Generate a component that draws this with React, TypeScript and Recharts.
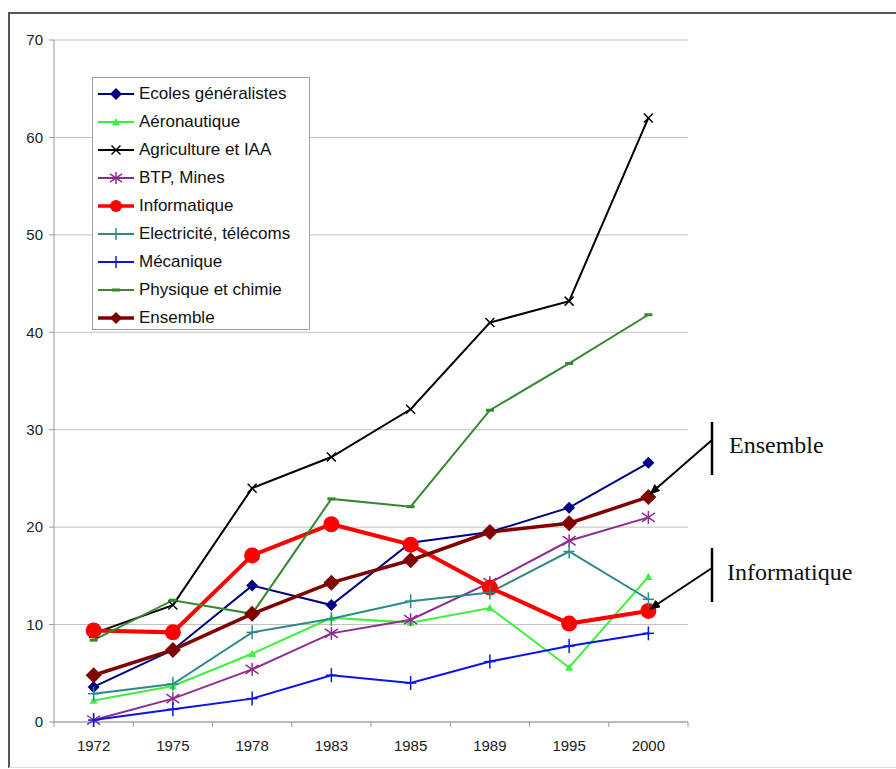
import React from 'react';
import { LineChart, Line, XAxis, YAxis, CartesianGrid, Legend } from 'recharts';

// Years on the category axis
const years = ['1972', '1975', '1978', '1983', '1985', '1989', '1995', '2000'];

// Values, one array per school type
const ecolesGeneralistes = [3.6, 7.4, 14.0, 12.0, 18.4, 19.5, 22.0, 26.6];
const aeronautique = [2.2, 3.7, 7.0, 10.7, 10.2, 11.7, 5.6, 14.9];
const agriculture = [9.1, 12.0, 24.0, 27.2, 32.1, 41.0, 43.2, 62.0];
const btpMines = [0.2, 2.4, 5.4, 9.1, 10.5, 14.3, 18.6, 21.0];
const informatique = [9.4, 9.2, 17.1, 20.3, 18.2, 13.8, 10.1, 11.4];
const electricite = [2.9, 3.9, 9.2, 10.6, 12.4, 13.3, 17.5, 12.6];
const mecanique = [0.2, 1.3, 2.4, 4.8, 4.0, 6.2, 7.8, 9.1];
const physique = [8.4, 12.5, 11.1, 22.9, 22.1, 32.0, 36.8, 41.8];
const ensemble = [4.8, 7.4, 11.1, 14.3, 16.6, 19.5, 20.4, 23.1];

const yTicks = [0, 10, 20, 30, 40, 50, 60, 70];

type Shape = 'diamond' | 'triangle' | 'cross' | 'star' | 'circle' | 'plus' | 'dash';

interface Series {
  key: string;
  name: string;
  values: number[];
  color: string;
  width: number;
  shape: Shape;
  size: number;
}

const SERIES: Series[] = [
  { key: 'ecoles', name: 'Ecoles généralistes', values: ecolesGeneralistes, color: '#000080', width: 2, shape: 'diamond', size: 6 },
  { key: 'aero', name: 'Aéronautique', values: aeronautique, color: '#3ef03e', width: 2, shape: 'triangle', size: 4 },
  { key: 'agri', name: 'Agriculture et IAA', values: agriculture, color: '#000000', width: 2, shape: 'cross', size: 4.5 },
  { key: 'btp', name: 'BTP, Mines', values: btpMines, color: '#8e2d8e', width: 2, shape: 'star', size: 6.5 },
  { key: 'info', name: 'Informatique', values: informatique, color: '#ff0000', width: 4, shape: 'circle', size: 8 },
  { key: 'elec', name: 'Electricité, télécoms', values: electricite, color: '#2e8a8a', width: 2, shape: 'plus', size: 7 },
  { key: 'meca', name: 'Mécanique', values: mecanique, color: '#0a14e6', width: 2, shape: 'plus', size: 7 },
  { key: 'phys', name: 'Physique et chimie', values: physique, color: '#35892f', width: 2, shape: 'dash', size: 4 },
  { key: 'ens', name: 'Ensemble', values: ensemble, color: '#800000', width: 3.5, shape: 'diamond', size: 8 },
];

const chartData = years.map((year, i) => {
  const row: Record<string, string | number> = { year };
  SERIES.forEach((s) => {
    row[s.key] = s.values[i];
  });
  return row;
});

const FONT = '"Liberation Sans", Arial, sans-serif';
const SERIF = '"Liberation Serif", "Times New Roman", serif';
const HALF_BAND = 634 / years.length / 2;

function Marker({ cx, cy, shape, size, color }: { cx: number; cy: number; shape: Shape; size: number; color: string }) {
  const s = size;
  switch (shape) {
    case 'diamond':
      return <polygon points={`${cx},${cy - s} ${cx + s},${cy} ${cx},${cy + s} ${cx - s},${cy}`} fill={color} />;
    case 'triangle':
      return <polygon points={`${cx},${cy - s} ${cx + s},${cy + s * 0.8} ${cx - s},${cy + s * 0.8}`} fill={color} />;
    case 'circle':
      return <circle cx={cx} cy={cy} r={s} fill={color} />;
    case 'cross':
      return (
        <g stroke={color} strokeWidth={1.5}>
          <line x1={cx - s} y1={cy - s} x2={cx + s} y2={cy + s} />
          <line x1={cx - s} y1={cy + s} x2={cx + s} y2={cy - s} />
        </g>
      );
    case 'star':
      return (
        <g stroke={color} strokeWidth={1.5}>
          <line x1={cx - s} y1={cy - s * 0.7} x2={cx + s} y2={cy + s * 0.7} />
          <line x1={cx - s} y1={cy + s * 0.7} x2={cx + s} y2={cy - s * 0.7} />
          <line x1={cx} y1={cy - s} x2={cx} y2={cy + s} />
        </g>
      );
    case 'plus':
      return (
        <g stroke={color} strokeWidth={1.5}>
          <line x1={cx - s * 0.8} y1={cy} x2={cx + s * 0.8} y2={cy} />
          <line x1={cx} y1={cy - s} x2={cx} y2={cy + s} />
        </g>
      );
    case 'dash':
      return <line x1={cx - s} y1={cy} x2={cx + s} y2={cy} stroke={color} strokeWidth={3} />;
  }
  return null;
}

function XTick(props: any) {
  const { x, y, payload, index } = props;
  const last = index === years.length - 1;
  return (
    <g>
      <line x1={x - HALF_BAND} y1={y} x2={x - HALF_BAND} y2={y + 5} stroke="#999" />
      {last && <line x1={x + HALF_BAND} y1={y} x2={x + HALF_BAND} y2={y + 5} stroke="#999" />}
      <text x={x} y={y + 29} textAnchor="middle" fontSize={15} fill="#222" fontFamily={FONT}>
        {payload.value}
      </text>
    </g>
  );
}

function LegendBox() {
  return (
    <div
      style={{
        boxSizing: 'border-box',
        border: '1px solid #a0a0a0',
        background: '#fff',
        padding: '2px 0 0 4px',
        fontFamily: FONT,
        fontSize: 17,
        color: '#111',
        width: 218,
        height: 253,
      }}
    >
      {SERIES.map((s) => (
        <div key={s.key} style={{ display: 'flex', alignItems: 'center', height: 28 }}>
          <svg width={40} height={20} style={{ marginRight: 2, flex: 'none' }}>
            <line x1={1} y1={10} x2={37} y2={10} stroke={s.color} strokeWidth={s.width > 3 ? 3.5 : 2} />
            <Marker cx={19} cy={10} shape={s.shape} size={Math.min(s.size, 6)} color={s.color} />
          </svg>
          <span style={{ whiteSpace: 'nowrap' }}>{s.name}</span>
        </div>
      ))}
    </div>
  );
}

function Annotations() {
  return (
    <svg width={896} height={769} style={{ position: 'absolute', left: 0, top: 0, pointerEvents: 'none' }}>
      <defs>
        <marker id="arrow" markerWidth="11" markerHeight="9" refX="10" refY="4.5" orient="auto" markerUnits="userSpaceOnUse">
          <path d="M0,0 L11,4.5 L0,9 Z" fill="#000" />
        </marker>
      </defs>
      <line x1={712} y1={422} x2={712} y2={475} stroke="#000" strokeWidth={2.5} />
      <line x1={712} y1={440} x2={650} y2={494} stroke="#000" strokeWidth={2} markerEnd="url(#arrow)" />
      <text x={729} y={453} fontSize={24} fontFamily={SERIF} fill="#111">
        Ensemble
      </text>
      <line x1={712} y1={548} x2={712} y2={602} stroke="#000" strokeWidth={2.5} />
      <line x1={712} y1={568} x2={650} y2={609} stroke="#000" strokeWidth={2} markerEnd="url(#arrow)" />
      <text x={727} y={580} fontSize={24} fontFamily={SERIF} fill="#111">
        Informatique
      </text>
    </svg>
  );
}

export default function App() {
  return (
    <div style={{ position: 'absolute', left: 0, top: 0, width: 896, height: 769, overflow: 'hidden', background: '#fff' }}>
      <div
        style={{
          position: 'absolute',
          left: 8,
          top: 12,
          width: 900,
          height: 753,
          borderTop: '2px solid #555',
          borderLeft: '2px solid #555',
          borderBottom: '1px solid #ddd',
        }}
      />
      <LineChart width={896} height={769} data={chartData} margin={{ top: 40, right: 208, bottom: 0, left: 0 }}>
        <CartesianGrid horizontal vertical={false} stroke="#c0c0c0" />
        <XAxis
          dataKey="year"
          padding={{ left: HALF_BAND, right: HALF_BAND }}
          tickLine={false}
          tickSize={0}
          tickMargin={0}
          stroke="#999"
          height={47}
          tick={<XTick />}
          interval={0}
        />
        <YAxis
          domain={[0, 70]}
          ticks={yTicks}
          width={54}
          stroke="#999"
          tickSize={5}
          tickMargin={6}
          tick={{ fontSize: 15, fill: '#222', fontFamily: FONT }}
        />
        <YAxis yAxisId="frame" orientation="right" width={0} stroke="#b0b0b0" tick={false} tickLine={false} />
        <Legend
          layout="vertical"
          align="center"
          verticalAlign="middle"
          wrapperStyle={{ left: 92, top: 77, width: 218 }}
          content={() => <LegendBox />}
        />
        {SERIES.map((s) => (
          <Line
            key={s.key}
            dataKey={s.key}
            name={s.name}
            stroke={s.color}
            strokeWidth={s.width}
            isAnimationActive={false}
            dot={(p: any) => <Marker key={`${s.key}-${p.index}`} cx={p.cx} cy={p.cy} shape={s.shape} size={s.size} color={s.color} />}
            activeDot={false}
          />
        ))}
      </LineChart>
      <Annotations />
    </div>
  );
}
